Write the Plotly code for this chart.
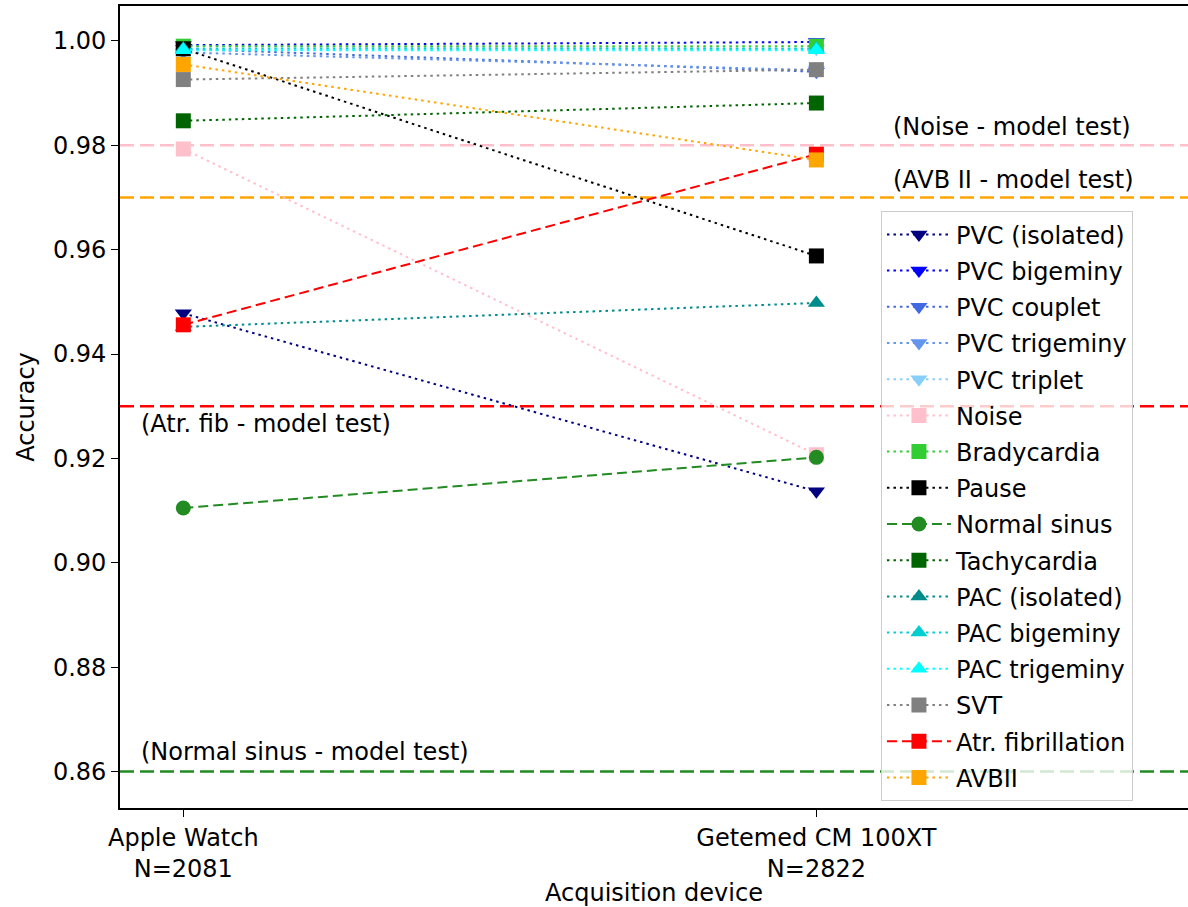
import plotly.graph_objects as go

# ---------------- data ----------------
x_pos = [0, 1]
devices = ["Apple Watch<br>N=2081", "Getemed CM 100XT<br>N=2822"]

names = ["PVC (isolated)", "PVC bigeminy", "PVC couplet", "PVC trigeminy", "PVC triplet",
         "Noise", "Bradycardia", "Pause", "Normal sinus", "Tachycardia",
         "PAC (isolated)", "PAC bigeminy", "PAC trigeminy", "SVT",
         "Atr. fibrillation", "AVBII"]

pvc_isolated = [0.9478, 0.9137]
pvc_bigeminy = [0.9992, 0.9998]
pvc_couplet = [0.9985, 0.9941]
pvc_trigeminy = [0.9978, 0.9944]
pvc_triplet = [0.9990, 0.9985]
noise = [0.9793, 0.9207]
bradycardia = [0.9990, 0.9990]
pause = [0.9985, 0.9588]
normal_sinus = [0.9105, 0.9202]
tachycardia = [0.9847, 0.9881]
pac_isolated = [0.9452, 0.9498]
pac_bigeminy = [0.9985, 0.9985]
pac_trigeminy = [0.9982, 0.9982]
svt = [0.9926, 0.9945]
atr_fib = [0.9456, 0.9783]
avbii = [0.9955, 0.9772]

series = [pvc_isolated, pvc_bigeminy, pvc_couplet, pvc_trigeminy, pvc_triplet,
          noise, bradycardia, pause, normal_sinus, tachycardia,
          pac_isolated, pac_bigeminy, pac_trigeminy, svt, atr_fib, avbii]

colors = ["#000080", "#0000ff", "#4169e1", "#6495ed", "#87cefa",
          "#ffc0cb", "#32cd32", "#000000", "#228b22", "#006400",
          "#008b8b", "#00ced1", "#00ffff", "#808080", "#ff0000", "#ffa500"]
symbols = ["triangle-down"] * 5 + ["square", "square", "square", "circle", "square",
           "triangle-up", "triangle-up", "triangle-up", "square", "square", "square"]
styles = ["dot"] * 8 + ["dash"] + ["dot"] * 5 + ["dash", "dot"]

ref_values = [0.98, 0.97, 0.93, 0.86]
ref_colors = ["#ffc0cb", "#ffa500", "#ff0000", "#228b22"]
ref_labels = ["(Noise - model test)", "(AVB II - model test)",
              "(Atr. fib - model test)", "(Normal sinus - model test)"]
ref_label_x = [1.118, 1.118, -0.07, -0.07]
ref_label_y = [0.9835, 0.9733, 0.9265, 0.8638]

y_ticks = [0.86, 0.88, 0.90, 0.92, 0.94, 0.96, 0.98, 1.00]

# ---------------- figure ----------------
FONT = "DejaVu Sans"
FS = 24
TXT = "#000000"

fig = go.Figure()

for val, col in zip(ref_values, ref_colors):
    fig.add_shape(type="line", xref="paper", yref="y", x0=0, x1=1, y0=val, y1=val,
                  line=dict(color=col, width=2.5, dash="14px,6px"), layer="below")

for i, (nm, ys) in enumerate(zip(names, series)):
    dash = "2.5px,4px" if styles[i] == "dot" else "10px,5px"
    fig.add_trace(go.Scatter(
        x=x_pos, y=ys, name=nm, mode="lines+markers",
        legendgroup=nm,
        line=dict(color=colors[i], width=2, dash=dash),
        marker=dict(symbol=symbols[i], color=colors[i], size=15, line=dict(width=0)),
    ))

for txt, xx, yy in zip(ref_labels, ref_label_x, ref_label_y):
    fig.add_annotation(x=xx, y=yy, xref="x", yref="y", text=txt, showarrow=False,
                       xanchor="left", yanchor="middle",
                       font=dict(family=FONT, size=FS, color=TXT))

fig.update_layout(
    width=1188, height=907,
    margin=dict(l=120, r=0, t=6, b=99),
    paper_bgcolor="white", plot_bgcolor="white",
    font=dict(family=FONT, size=FS, color=TXT),
    showlegend=True,
    legend=dict(x=0.7125, y=0.744, xanchor="left", yanchor="top",
                bgcolor="rgba(255,255,255,0.8)", bordercolor="#cccccc", borderwidth=1,
                font=dict(family=FONT, size=FS, color=TXT),
                tracegroupgap=2, itemwidth=64),
    xaxis=dict(range=[-0.1, 1.587], tickvals=x_pos, ticktext=devices,
               automargin=False, tickfont=dict(size=FS),
               showgrid=False, zeroline=False, showline=True, linecolor="black",
               linewidth=1.6, mirror=True, ticks="outside", ticklen=7, tickwidth=1.4,
               tickcolor="black",
               title=dict(text="Acquisition device", standoff=2,
                          font=dict(family=FONT, size=FS, color=TXT))),
    yaxis=dict(range=[0.853, 1.0067], tickvals=y_ticks,
               ticktext=[f"{v:.2f}" for v in y_ticks],
               automargin=False, tickfont=dict(size=FS),
               showgrid=False, zeroline=False, showline=True, linecolor="black",
               linewidth=1.6, mirror=False, ticks="outside", ticklen=7, tickwidth=1.4,
               tickcolor="black",
               title=dict(text="Accuracy", standoff=12,
                          font=dict(family=FONT, size=FS, color=TXT))),
)

fig.write_html("out.html", config={"displayModeBar": False},
               post_script="document.body.style.margin='0px';document.body.style.overflow='hidden';")
